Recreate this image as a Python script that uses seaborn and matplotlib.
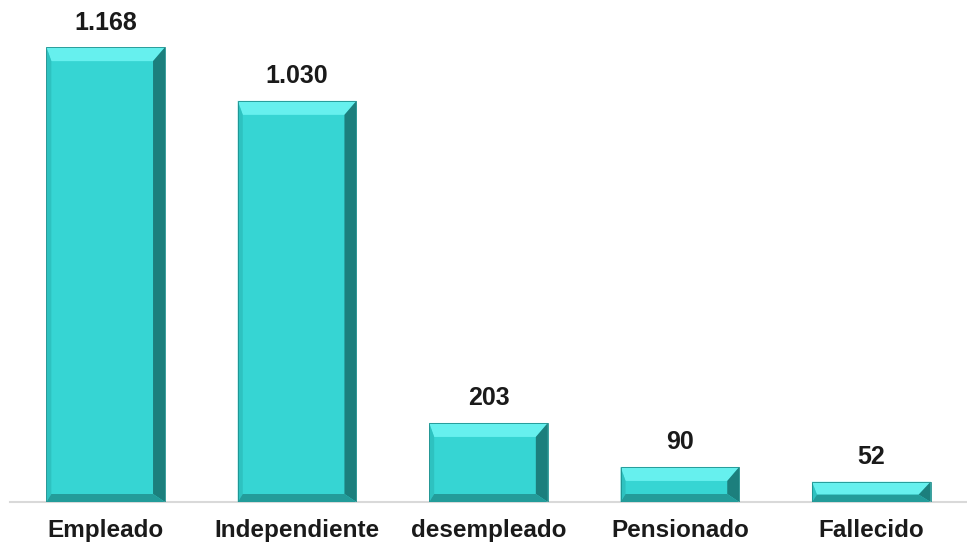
import pandas as pd
import seaborn as sns
import matplotlib.pyplot as plt
from matplotlib.patches import Polygon

# datos
categorias = ["Empleado", "Independiente", "desempleado", "Pensionado", "Fallecido"]
valores = [1168, 1030, 203, 90, 52]
etiquetas = ["1.168", "1.030", "203", "90", "52"]

df = pd.DataFrame({"Estado": categorias, "Cantidad": valores})

sns.set_style("white")
plt.rcParams["font.family"] = ["Liberation Sans", "DejaVu Sans"]

fig = plt.figure(figsize=(9.67, 5.46), dpi=100)
ax = fig.add_axes([10 / 967, 44 / 546, 957 / 967, 502 / 546])

sns.barplot(x="Estado", y="Cantidad", data=df, color="#36D5D3", saturation=1,
            width=0.62, ax=ax)
ax.set_xlim(-0.5, 4.5)
ax.set_ylim(0, 1289)

# efecto bisel en cada barra (anchos en pixeles)
fig.canvas.draw()
inv = ax.transData.inverted()
for p in ax.patches:
    bb = p.get_window_extent()
    x0, y0, x1, y1 = bb.x0, bb.y0, bb.x1, bb.y1
    h = y1 - y0
    bt, bbot, bl, br = 14.0, 8.0, 5.0, 12.0
    if bt + bbot > h:
        f = h / (bt + bbot)
        bt, bbot = bt * f, bbot * f
    ix0, ix1, iy0, iy1 = x0 + bl, x1 - br, y0 + bbot, y1 - bt
    caras = [
        ([(x0, y1), (x1, y1), (ix1, iy1), (ix0, iy1)], "#66F0EE"),
        ([(x0, y0), (x0, y1), (ix0, iy1), (ix0, iy0)], "#2EC2C0"),
        ([(x1, y0), (x1, y1), (ix1, iy1), (ix1, iy0)], "#1C7F7D"),
        ([(x0, y0), (x1, y0), (ix1, iy0), (ix0, iy0)], "#239C9A"),
    ]
    for pts, col in caras:
        ax.add_patch(Polygon(inv.transform(pts), closed=True, facecolor=col,
                             edgecolor="none", zorder=3))
    ax.add_patch(Polygon(inv.transform([(x0, y0), (x0, y1), (x1, y1), (x1, y0)]), closed=True,
                         facecolor="none", edgecolor="#1d8f8d", linewidth=0.6, zorder=4))

for i, txt in enumerate(etiquetas):
    ax.annotate(txt, (i, valores[i]), xytext=(0, 9), textcoords="offset points",
                ha="center", va="bottom", fontsize=18, fontweight="bold", color="#1a1a1a")

ax.set_xlabel("")
ax.set_ylabel("")
ax.set_yticks([])
ax.tick_params(axis="x", length=0, labelsize=17.5, pad=12)
for lab in ax.get_xticklabels():
    lab.set_fontweight("bold")
    lab.set_color("#1a1a1a")
for s in ["top", "right", "left"]:
    ax.spines[s].set_visible(False)
ax.spines["bottom"].set_color("#d9d9d9")
ax.spines["bottom"].set_linewidth(1.5)

plt.savefig("out.png", dpi=100)
